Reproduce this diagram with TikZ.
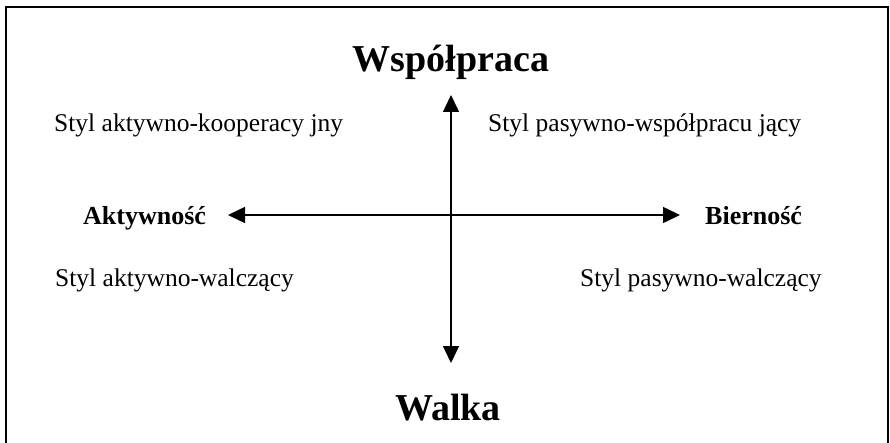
\documentclass[tikz,border=0pt]{standalone}
\usepackage{fontspec}
\setmainfont{Liberation Serif}
\usetikzlibrary{arrows.meta}
\begin{document}
\begin{tikzpicture}[x=1pt,y=-1pt,
  styl/.style={anchor=base west,inner sep=0pt,font=\fontsize{25.5}{28}\selectfont},
  biegun/.style={anchor=base west,inner sep=0pt,font=\fontsize{26}{28}\selectfont\bfseries},
  tytul/.style={anchor=base,inner sep=0pt,font=\fontsize{38}{42}\selectfont\bfseries},
  os/.style={line width=1.5pt,{Triangle[length=17pt,width=16pt]}-{Triangle[length=17pt,width=16pt]}}]
\useasboundingbox (0,0) rectangle (890,443);
% ramka
\draw[line width=2pt] (6,445)--(6,7)--(888,7)--(888,445);
% osie
\coordinate (gora) at (451,95);
\coordinate (dol) at (451,363);
\coordinate (lewo) at (228,215);
\coordinate (prawo) at (680,215);
\draw[os] (gora)--(dol);
\draw[os] (lewo)--(prawo);
\node[tytul] (wsp) at (451,72) {Współpraca};
\node[tytul] (walka) at (448,420) {Walka};
\node[biegun] (akt) at (83,225) {Aktywność};
\node[biegun] (bier) at (705,225) {Bierność};
\node[styl] (ak) at (54,132) {Styl aktywno-kooperacy jny};
\node[styl] (pw) at (488,132) {Styl pasywno-współpracu jący};
\node[styl] (aw) at (55,286) {Styl aktywno-walczący};
\node[styl] (pwal) at (580,286) {Styl pasywno-walczący};
\end{tikzpicture}
\end{document}
